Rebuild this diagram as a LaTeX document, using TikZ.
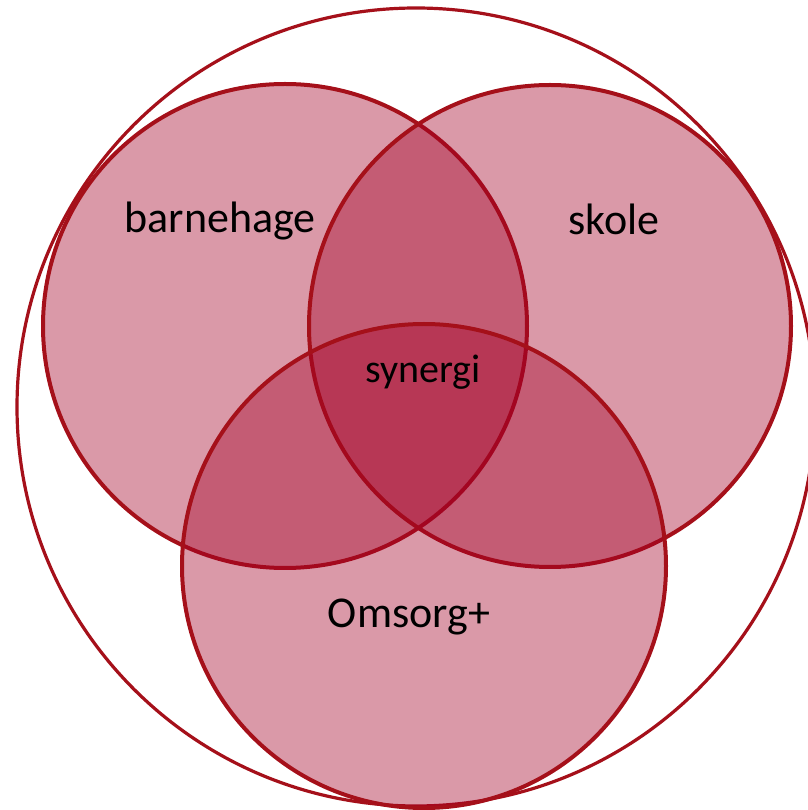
\documentclass[tikz,border=0pt]{standalone}
\usepackage{fontspec}
\setmainfont{Carlito}
\definecolor{venn}{RGB}{163,0,38}
\definecolor{rand}{RGB}{165,16,26}

\begin{document}
\begin{tikzpicture}[x=0.5pt,y=0.5pt,
	sirkel/.style={draw=rand, line width=2pt, fill=venn, fill opacity=0.4},
	etikett/.style={anchor=base, inner sep=0pt, text=black, font=\fontsize{22}{26}\selectfont}]
		\useasboundingbox (0,0) rectangle (808,810);
		
		%YTRE SIRKEL
		\draw [rand, line width=1.6pt] (416,403) circle (399);
		
		%VENN
		\draw [sirkel] (285,484) circle (242);
		\draw [sirkel] (550,484) circle (241);
		\draw [sirkel] (424,244) circle (242);
		
		%TEKST
		\node [etikett] (barnehage) at (220,577) {barnehage};
		\node [etikett] (skole) at (614,575) {skole};
		\node [etikett, font=\fontsize{20}{24}\selectfont] (synergi) at (423,427) {synergi};
		\node [etikett] (omsorg) at (409,182) {Omsorg+};
		
	\end{tikzpicture}
\end{document}
